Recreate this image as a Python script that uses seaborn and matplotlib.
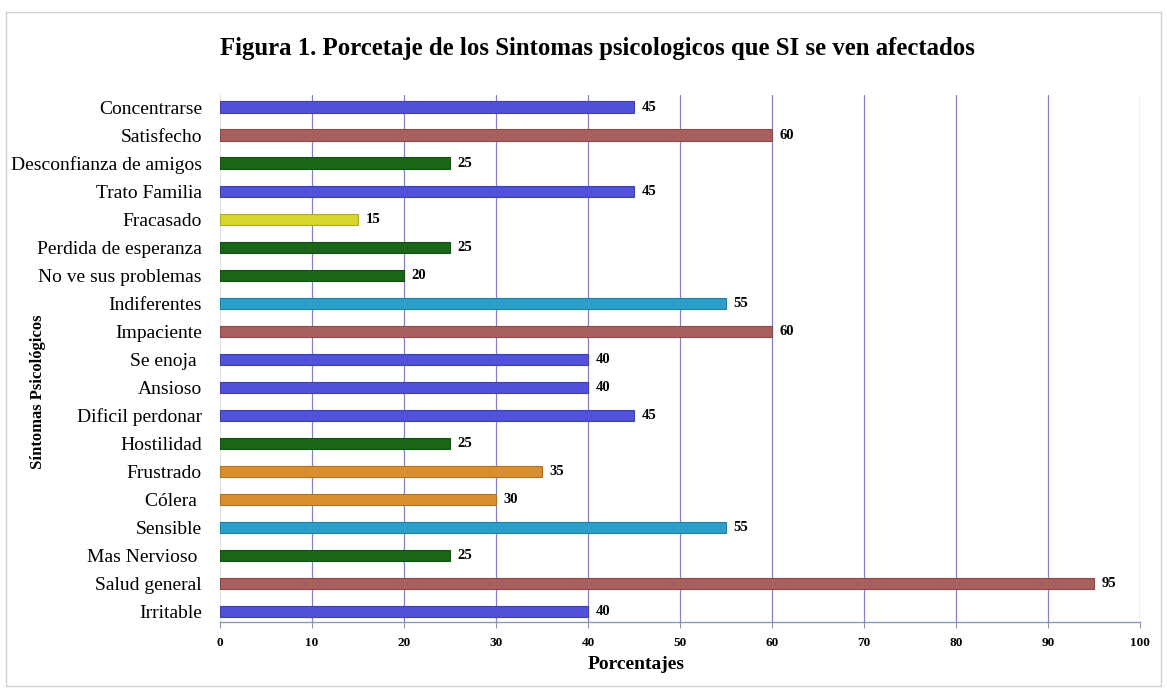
import matplotlib
matplotlib.use("Agg")
import matplotlib.pyplot as plt
import seaborn as sns
import pandas as pd

# data
sintomas = ["Concentrarse", "Satisfecho", "Desconfianza de amigos", "Trato Familia",
            "Fracasado", "Perdida de esperanza", "No ve sus problemas", "Indiferentes",
            "Impaciente", "Se enoja ", "Ansioso", "Dificil perdonar", "Hostilidad",
            "Frustrado", "Cólera ", "Sensible", "Mas Nervioso ", "Salud general", "Irritable"]
porcentajes = [45, 60, 25, 45, 15, 25, 20, 55, 60, 40, 40, 45, 25, 35, 30, 55, 25, 95, 40]

azul = "#5151DA"
rojo = "#A95F5E"
verde = "#196619"
amarillo = "#D7D62A"
celeste = "#2C9FC9"
naranja = "#D98F2D"
colores = [azul, rojo, verde, azul, amarillo, verde, verde, celeste, rojo, azul,
           azul, azul, verde, naranja, naranja, celeste, verde, rojo, azul]

df = pd.DataFrame({"Sintoma": sintomas, "Porcentaje": porcentajes})

sns.set_style("white")
plt.rcParams["font.family"] = ["Liberation Serif", "DejaVu Serif"]
plt.rcParams["text.color"] = "black"
plt.rcParams["xtick.color"] = "black"
plt.rcParams["ytick.color"] = "black"
plt.rcParams["axes.labelcolor"] = "black"

fig = plt.figure(figsize=(11.67, 6.88), dpi=100)
ax = fig.add_axes([0.1885, 0.096, 0.7884, 0.766])

sns.barplot(data=df, y="Sintoma", x="Porcentaje", hue="Sintoma", palette=colores,
            saturation=1, orient="h", width=0.4, legend=False, ax=ax, zorder=3)
# slightly darker outline around each bar
for bar in ax.patches:
    r, g, b, a = bar.get_facecolor()
    bar.set_edgecolor((r * 0.8, g * 0.8, b * 0.8))
    bar.set_linewidth(0.8)

# value labels
for i, v in enumerate(porcentajes):
    ax.text(v + 0.8, i, str(v), va="center", ha="left", fontsize=10.5, fontweight="bold")

ax.set_xlim(0, 100)
ax.set_ylim(18.36, -0.43)
ax.set_xticks(range(0, 101, 10))
ax.set_xticklabels([str(t) for t in range(0, 101, 10)], fontsize=9.5, fontweight="bold")
ax.tick_params(axis="x", length=4, color="#8a9ab5", pad=7, bottom=True)
ax.tick_params(axis="y", length=0, labelsize=14, pad=13)
for t in range(10, 101, 10):
    ax.axvline(t, color="#8080c8", linewidth=0.9, zorder=0)

for s in ["top", "right"]:
    ax.spines[s].set_visible(False)
ax.spines["left"].set_color("#e0e0e0")
ax.spines["bottom"].set_color("#8a9ab5")
ax.spines["bottom"].set_linewidth(1.0)

ax.set_xlabel("Porcentajes", fontsize=14, fontweight="bold")
ax.xaxis.set_label_coords(0.452, -0.065)
ax.set_ylabel("")
fig.text(0.0326, 0.43, "Síntomas Psicológicos", rotation=90, ha="center", va="center",
         fontsize=12, fontweight="bold")

fig.text(0.512, 0.93, "Figura 1. Porcetaje de los Sintomas psicologicos que SI se ven afectados",
         ha="center", va="center", fontsize=17.8, fontweight="bold")

# outer frame of the chart area
fig.patches.append(plt.Rectangle((0.005, 0.003), 0.99, 0.98, transform=fig.transFigure,
                                 fill=False, edgecolor="#d0d0d0", linewidth=1.0))

fig.savefig("out.png", dpi=100)
